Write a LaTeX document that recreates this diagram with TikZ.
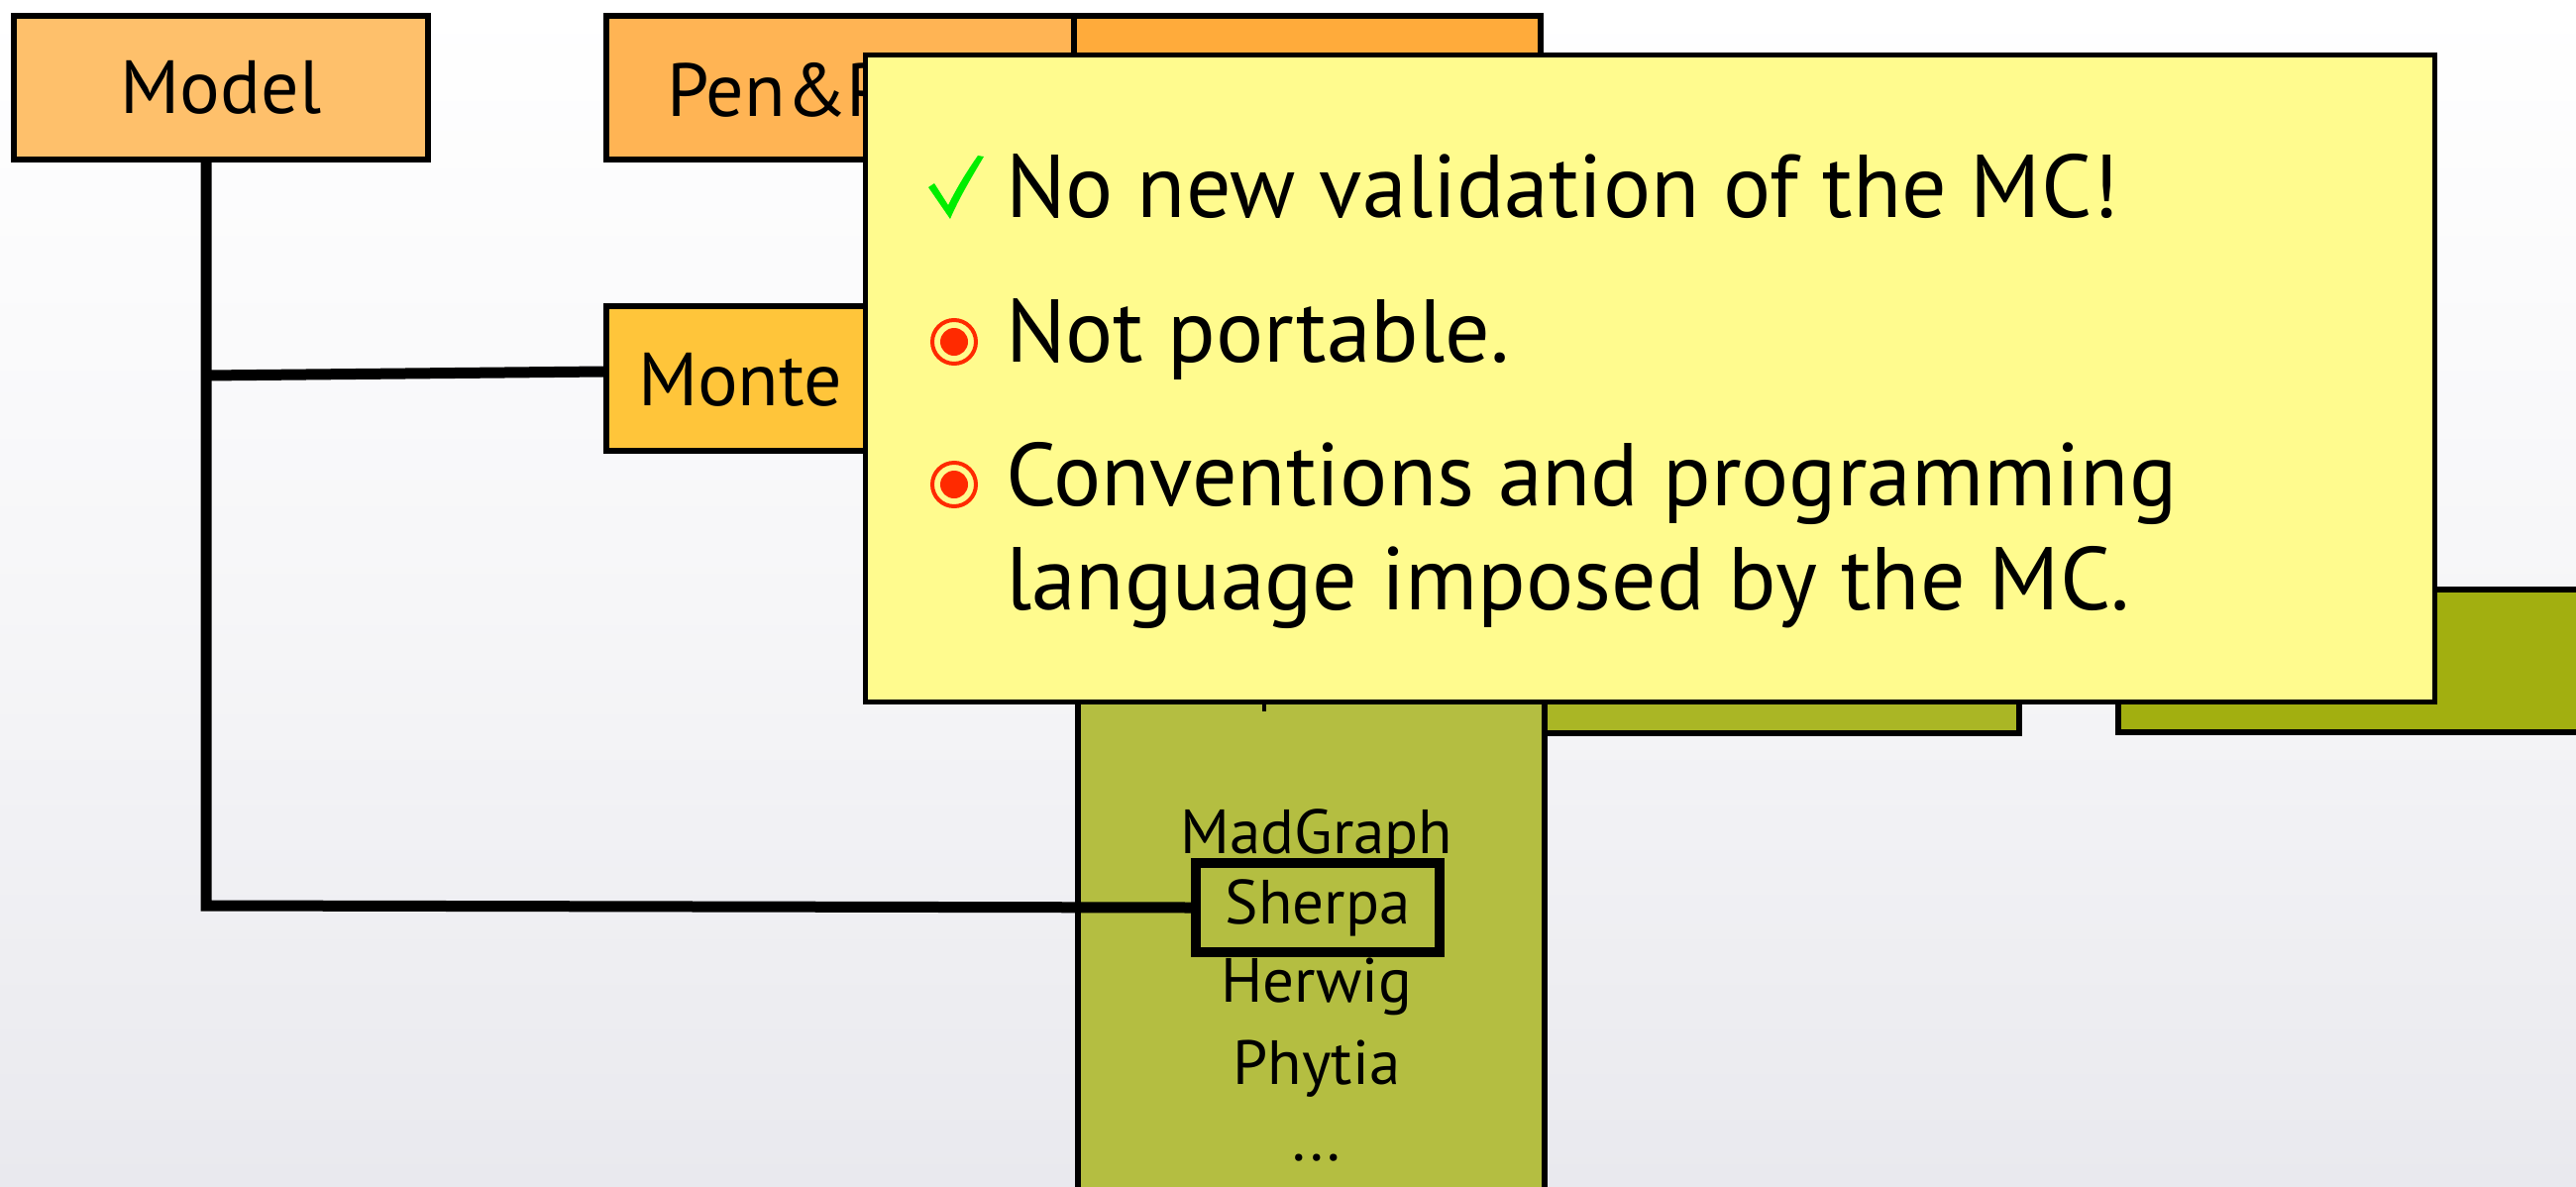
\documentclass[tikz,border=0pt]{standalone}
\usepackage{fontspec}
\setmainfont{PT Sans}
\definecolor{cModel}{RGB}{254,192,107}
\definecolor{cPen}{RGB}{255,180,84}
\definecolor{cPenB}{RGB}{255,171,59}
\definecolor{cMonte}{RGB}{255,197,58}
\definecolor{cCol}{RGB}{180,190,65}
\definecolor{cGrB}{RGB}{170,182,37}
\definecolor{cGrC}{RGB}{162,175,16}
\definecolor{cPop}{RGB}{255,251,142}
\definecolor{cCheck}{RGB}{0,238,0}
\definecolor{cBul}{RGB}{255,42,0}
\definecolor{cBgBot}{RGB}{233,233,238}
\newcommand\popfont{\fontsize{90}{108}\selectfont}
\newcommand\boxfont{\fontsize{76}{90}\selectfont}
\newcommand\colfont{\fontsize{63}{76}\selectfont}
\begin{document}
\begin{tikzpicture}[x=1pt,y=-1pt,
  obox/.style={draw=black,line width=6pt,rectangle,inner sep=0pt},
  conn/.style={draw=black,line width=11pt},
  lbl/.style={inner sep=0pt,outer sep=0pt},
  bullet/.style={draw=cBul,line width=4pt}]
\useasboundingbox (0,0) rectangle (2600,1197);
\clip (0,0) rectangle (2600,1197);
\shade[top color=white,bottom color=cBgBot,middle color=white!60!cBgBot] (0,0) rectangle (2600,1197);
% green boxes
\node[obox,fill=cCol,minimum width=471,minimum height=660] (col) at (1323.5,920) {};
\node[obox,fill=cGrB,minimum width=479,minimum height=145] (grb) at (1798.5,667.5) {};
\node[obox,fill=cGrC,minimum width=562,minimum height=144] (grc) at (2419,667) {};
% orange boxes
\node[obox,fill=cModel,minimum width=418,minimum height=145,font=\boxfont] (model) at (223,88.5) {Model};
\node[obox,fill=cPen,minimum width=472,minimum height=145] (pen) at (848,88.5) {};
\node[obox,fill=cPenB,minimum width=471,minimum height=145] (penb) at (1319.5,88.5) {};
\node[obox,fill=cMonte,minimum width=472,minimum height=146] (monte) at (848,382) {};
\node[lbl,anchor=base west,font=\boxfont] (pentext) at (673,117) {Pen\&P};
\node[lbl,anchor=base west,font=\boxfont] (montetext) at (644,409) {Monte};
% column texts
\node[lbl,anchor=base,font=\colfont] (mad) at (1329,861) {MadGraph};
\node[draw=black,line width=10pt,inner sep=0pt,minimum width=246,minimum height=90,font=\colfont] (sherpa) at (1330,916) {Sherpa};
\node[lbl,anchor=base,font=\colfont] (herwig) at (1329,1011) {Herwig};
\node[lbl,anchor=base,font=\colfont] (phytia) at (1329,1094) {Phytia};
\node[lbl,anchor=base,font=\colfont] (dots) at (1329,1171) {...};
% connectors
\coordinate (corner) at (208,914);
\coordinate (tjoin) at (208,379);
\draw[conn,line cap=rect] (208,0 |- model.south) -- (corner) -- (sherpa.west);
\draw[conn] (tjoin) -- (monte.west |- 0,375);
% small tick below the popup
\draw[line width=4pt] (1276,700) -- (1276,718);
% popup
\node[draw=black,line width=5pt,fill=cPop,minimum width=1584,minimum height=653,inner sep=0pt] (popup) at (1665.5,382) {};
\fill[cCheck] (937,189) -- (943,185) -- (957,207) .. controls (968,185) and (978,170) .. (987,157) -- (993,158) .. controls (980,180) and (968,200) .. (959,221) -- cycle;
\draw[bullet] (963,345) circle (22);
\fill[cBul] (963,345) circle (14);
\draw[bullet] (963,489) circle (22);
\fill[cBul] (963,489) circle (14);
\node[lbl,anchor=base west,font=\popfont] (t1) at (1015,219) {No new validation of the MC!};
\node[lbl,anchor=base west,font=\popfont] (t2) at (1015,365) {Not portable.};
\node[lbl,anchor=base west,font=\popfont] (t3) at (1015,510) {Conventions and programming};
\node[lbl,anchor=base west,font=\popfont] (t4) at (1015,615) {language imposed by the MC.};
\end{tikzpicture}
\end{document}
